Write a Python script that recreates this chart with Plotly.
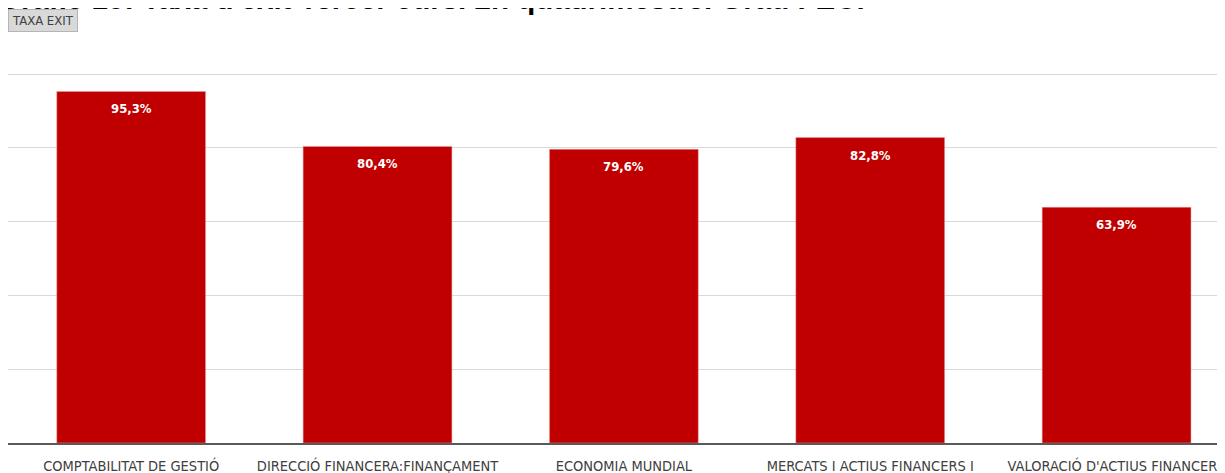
import plotly.graph_objects as go

categories = [
    "COMPTABILITAT DE GESTIÓ",
    "DIRECCIÓ FINANCERA:FINANÇAMENT",
    "ECONOMIA MUNDIAL",
    "MERCATS I ACTIUS FINANCERS I",
    "VALORACIÓ D'ACTIUS FINANCERS",
]
taxa_exit = [95.3, 80.4, 79.6, 82.8, 63.9]
labels = ["95,3%", "80,4%", "79,6%", "82,8%", "63,9%"]

title_text = "Gràfic 10: Taxa d'èxit Tercer curs. 2n quadrimestre. Grau FEC."

narrow = "Liberation Sans Narrow, DejaVu Sans Condensed, Arial"

fig = go.Figure()
fig.add_trace(
    go.Bar(
        x=categories,
        y=taxa_exit,
        marker=dict(color="#C00000", line=dict(color="#E8A0A0", width=0.5)),
        hoverinfo="skip",
    )
)

# value labels just inside the top of each bar
for cat, val, lab in zip(categories, taxa_exit, labels):
    fig.add_annotation(
        x=cat, y=val, text="<b>" + lab + "</b>",
        showarrow=False, yanchor="top", yshift=-8,
        font=dict(family=narrow, size=13, color="white"),
    )

# clipped chart title at the very top
fig.add_annotation(
    xref="paper", yref="paper", x=-0.01, y=1.152, xanchor="left", yanchor="bottom",
    text="<b>" + title_text + "</b>", showarrow=False,
    font=dict(family="Liberation Sans, Arial", size=29.5, color="black"),
)

# field button
fig.add_annotation(
    xref="paper", yref="paper", x=0, y=1.141, xanchor="left", yanchor="middle",
    text="TAXA EXIT", showarrow=False,
    font=dict(family=narrow, size=13, color="#404040"),
    bgcolor="#D9D9D9", bordercolor="#B5B5B5", borderwidth=1, borderpad=3,
)

fig.update_layout(
    width=1217,
    height=473,
    margin=dict(l=0, r=0, t=65, b=38),
    plot_bgcolor="white",
    paper_bgcolor="white",
    showlegend=False,
    bargap=0.396,
    xaxis=dict(
        range=[-0.5, 4.432],
        showline=True, linecolor="#595959", linewidth=2,
        showgrid=False, ticks="", ticklabelstandoff=9,
        tickfont=dict(family=narrow, size=14.5, color="#404040"),
    ),
    yaxis=dict(
        range=[0, 100.3], dtick=20,
        showgrid=True, gridcolor="#D9D9D9", gridwidth=1,
        zeroline=False, showticklabels=False, ticks="",
    ),
)

fig.write_html("out.html")
